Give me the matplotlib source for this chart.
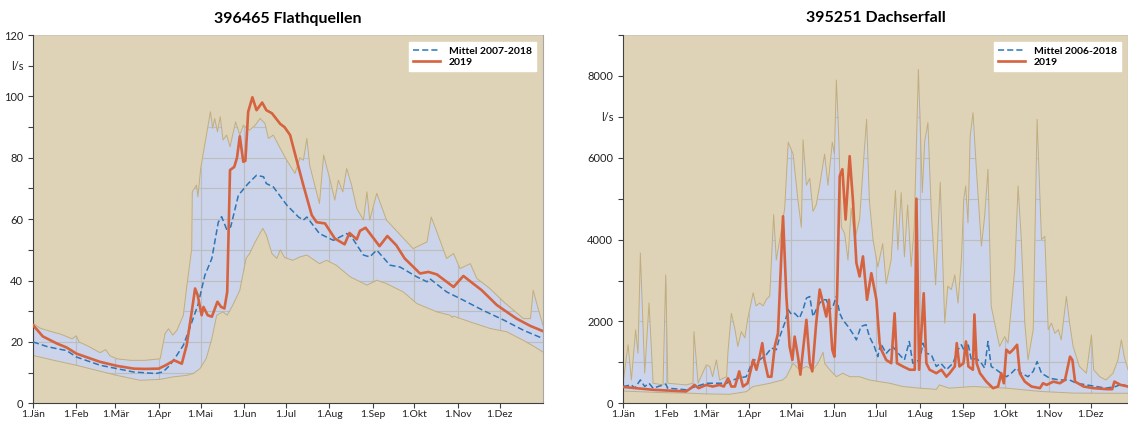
import matplotlib
matplotlib.use('Agg')
import matplotlib.pyplot as plt

plt.rcParams['font.family'] = ['Lato', 'DejaVu Sans']

# --- categories / ticks ---
month_days = [0, 31, 59, 90, 120, 151, 181, 212, 243, 273, 304, 334]
month_labels = ['1.Jän', '1.Feb', '1.Mär', '1.Apr', '1.Mai', '1.Jun',
                '1.Jul', '1.Aug', '1.Sep', '1.Okt', '1.Nov', '1.Dez']

# --- 396465 Flathquellen (l/s), day of year ---
fq_max_days = [0, 5, 12, 20, 28, 31, 33, 40, 48, 52, 55, 60, 70, 80, 91, 94.5, 97, 100, 103,
               107.6, 110, 113.6, 114, 117, 118, 120, 122, 127, 128.6, 130, 132, 134, 136,
               138.6, 141, 145, 148, 150.5, 155, 159, 162.5, 166, 168.5, 172, 177, 181.6,
               187.5, 191, 193.5, 196, 198, 205, 208, 212.6, 216, 218.5, 221.7, 224.5, 228,
               231.7, 236.5, 239, 241, 246, 253, 263, 272, 282, 285, 289, 296, 301, 305.6,
               313, 317.6, 327, 337, 351, 356, 358, 360.5, 365]
fq_max = [26, 24.5, 23.5, 22.5, 21, 22, 20, 18.5, 16.5, 17.5, 15.5, 14.5, 14, 14, 14.5, 22.7,
          24.3, 22.2, 23.8, 28.7, 37.9, 50.4, 68.9, 71.1, 67.3, 76.5, 81.9, 95, 89.6, 92.8,
          88.5, 93.4, 85.8, 87.4, 83.6, 91.7, 87.4, 90.6, 89, 90.6, 92.8, 91.2, 86.3, 87.4, 83,
          79.2, 74.9, 80, 79.2, 86.3, 77.6, 65.1, 80.9, 72.7, 66.2, 72.7, 68.9, 76.5, 71.1,
          63.5, 59.7, 68.9, 59.7, 68.4, 59.7, 54.8, 50.4, 52.6, 60.7, 55.9, 47.2, 48.8, 43.9,
          45.5, 40.7, 37.4, 33, 27.6, 27.6, 36.8, 32.5, 25.4]

fq_min_days = [0, 15, 31, 45, 60, 76.6, 91, 100, 110, 114.7, 119.5, 124, 128, 131.5, 136, 139,
               143, 148, 152.5, 155, 159, 164.5, 167, 171, 174.5, 177, 180, 186, 191, 196, 205,
               210, 217, 227, 239, 246, 253, 265, 274.7, 289, 298.5, 300, 301, 313, 327, 339,
               351, 359, 365]
fq_min = [15.6, 14, 12.4, 10.8, 9.1, 7.5, 7.8, 8.6, 9.1, 9.7, 11.3, 14.6, 21.1, 28.7, 29.8,
          28.7, 32, 36.8, 47.2, 48.8, 52.6, 57, 54.8, 48.8, 47.2, 50, 47.5, 46.6, 47.7, 48.3,
          45.5, 46.6, 45, 41.2, 38.5, 40.1, 39, 36.3, 32.5, 29.8, 28.7, 28, 28.4, 26.5, 24.4,
          23.3, 20.5, 18.4, 16.7]

fq_mean_days = [0, 10, 17, 24, 31, 48, 60, 72, 88, 93, 98, 103, 107.6, 112, 118, 123, 128,
                132.6, 135, 138.6, 141.5, 147, 154, 160, 165, 167, 172, 181.6, 190, 193.5, 196,
                205, 215, 224.5, 228, 236.5, 241, 246, 255.5, 262.7, 274.7, 282, 284, 296, 308,
                322, 337, 351, 365]
fq_mean = [20, 18.5, 17.8, 17.2, 15.1, 12.4, 11.3, 10.2, 9.7, 10.2, 12.4, 15.7, 18.9, 24.3,
           32, 41.7, 47.2, 59, 60.8, 56.7, 57.5, 67.8, 71.6, 74.3, 73.8, 71.6, 70.5, 64.6,
           60.7, 59.7, 60.7, 55.3, 53.1, 55.3, 54.2, 48.3, 47.7, 49.9, 45, 44.4, 41.2, 39.6,
           40.6, 36.3, 33.6, 30.3, 27.1, 23.8, 21.1]

fq_2019_days = [0, 7, 17, 24, 31, 48, 60, 72, 80, 90, 95, 101, 106.5, 110, 113.6, 116, 117.8,
                120.7, 122, 125, 128, 132, 134.6, 137, 139, 141, 144, 146, 148, 150.5, 152, 154,
                157, 160, 164, 167, 171, 177, 180, 184, 189, 193.5, 199.5, 203, 209, 216, 223,
                226.5, 231.7, 234, 238, 248, 253.6, 260, 266, 277, 283, 289, 301, 308, 315,
                321, 332, 346, 356, 365]
fq_2019 = [25.5, 21.8, 19.5, 18.2, 16.2, 13.5, 12.2, 11.3, 11.2, 11.3, 12.4, 14, 12.9, 19,
           29.8, 37.4, 35.3, 28.7, 31.4, 28.7, 28.2, 33.1, 31.4, 30.9, 36.3, 76, 77, 80, 87,
           78.7, 79, 95, 99.7, 95.5, 98, 95.5, 94.5, 91, 90, 87.4, 78.7, 71, 61.3, 59, 58.6,
           53.7, 51.8, 55.5, 53.4, 56.2, 57.2, 51.2, 54.5, 51.5, 47.2, 42.3, 42.8, 42, 37.9,
           41.5, 39, 36.9, 32, 27.6, 25.2, 23.5]

# --- 395251 Dachserfall (l/s), day of year ---
ds_max_days = [0, 3.6, 6, 9, 10.7, 12.4, 15.5, 18.6, 21.5, 28.6, 30.5, 32, 45, 50, 50.7, 53.6,
               59.5, 62, 64, 66.7, 69, 74, 75, 77.4, 80, 82, 84.5, 87, 89, 93, 95, 97.6, 100,
               102.4, 104.8, 107.6, 109.5, 112, 115.5, 118, 121.5, 125, 127.4, 128.6, 131,
               133.4, 135.7, 138, 140.5, 144, 146.4, 149.5, 151, 152.4, 154, 156, 158.3,
               160.7, 163, 165.5, 169, 172.6, 174, 176, 178.6, 182, 185.5, 188, 191.5, 194.6,
               196.3, 198.7, 201, 203.3, 205.8, 208, 211, 213.8, 215.5, 217.8, 220.2, 223.3,
               226.6, 229.8, 232, 234.5, 237, 239.3, 241.7, 243.4, 244.8, 246.4, 248, 250,
               252.4, 256, 258.3, 260.7, 263, 265.5, 269, 272.6, 275, 277.4, 279.8, 282.2,
               284.5, 287, 289.3, 293, 295.8, 298.9, 301.3, 303.7, 306, 308.5, 311, 313,
               316.7, 319, 321.5, 326, 331, 334.6, 336.2, 340.5, 345, 350, 353.5, 356, 358,
               360.7]
ds_max = [490, 1430, 570, 1795, 1225, 3675, 735, 2450, 490, 450, 3140, 490, 450, 490, 1750,
          490, 940, 900, 650, 1060, 570, 650, 1270, 2200, 1800, 1390, 1750, 1600, 2050, 2700,
          2380, 2450, 2380, 2540, 2620, 4610, 3500, 4000, 4770, 6380, 6090, 4950, 4300, 6440,
          5330, 5500, 4690, 4850, 5330, 6090, 5330, 6380, 6090, 7900, 6600, 4300, 4150, 3500,
          4770, 4000, 4500, 6300, 6940, 4950, 3990, 3330, 3900, 2920, 3500, 5200, 3750, 5150,
          3580, 4850, 3340, 4300, 8160, 5150, 6400, 6860, 4680, 2890, 5400, 1960, 2860, 2780,
          3140, 2450, 3510, 4990, 5310, 4410, 6530, 7100, 5720, 3840, 4570, 5720, 2370, 1960,
          1390, 1630, 1470, 2370, 3260, 5310, 4000, 1960, 1060, 1800, 6940, 4000, 4080, 1800,
          1960, 1710, 1800, 1550, 2610, 1960, 1390, 900, 735, 1670, 820, 650, 570, 735, 1060,
          1550, 1140, 820]

ds_min_days = [0, 28.6, 45, 59.5, 76, 88, 93, 105, 114, 116.7, 121.5, 126, 131, 135.7, 139.3,
               142.9, 144, 147.6, 152.4, 157, 162, 169, 176, 183, 190.5, 200, 211.9, 223.8,
               226, 233, 250, 274, 298, 321.5, 345, 360.7]
ds_min = [300, 260, 250, 230, 220, 284, 410, 490, 570, 650, 980, 820, 900, 820, 980, 1250,
          980, 820, 650, 735, 650, 650, 570, 530, 490, 410, 370, 340, 450, 370, 410, 370, 290,
          250, 245, 245]

ds_mean_days = [0, 6, 8.4, 12.4, 15.5, 18.6, 21.5, 30.5, 32, 45, 52, 59.5, 66.7, 74, 78.6, 83,
                88, 93, 97.6, 102.4, 106, 109.5, 112, 115.5, 118, 120.3, 122.6, 126, 128.6,
                131, 133.4, 135.7, 138, 140.5, 142.9, 145.2, 147.6, 150, 152.4, 154.8, 157,
                160.7, 164, 166.7, 170, 173.6, 176, 179.5, 182, 184, 188, 192.6, 197.4, 201,
                204.5, 207, 211.9, 214.3, 216.7, 220.2, 223.8, 227, 231, 235.7, 239.3, 241.7,
                244, 246.4, 248.8, 252.4, 256, 258.3, 260.7, 263, 266.7, 270, 274, 277.4, 281,
                284.5, 289.3, 293, 295.8, 298.9, 305, 312, 319, 324, 331, 338, 345, 352, 356,
                360.7]
ds_mean = [410, 450, 370, 570, 410, 490, 370, 470, 370, 330, 410, 490, 490, 490, 570, 620,
           650, 1060, 1060, 1190, 1350, 1310, 1630, 1960, 2290, 2170, 2200, 2080, 2290, 2570,
           2610, 2120, 2290, 2450, 2530, 2530, 2290, 2370, 2610, 2200, 2040, 1880, 1710, 1550,
           1880, 1920, 1630, 1390, 1140, 1470, 1220, 1390, 1190, 1060, 1510, 980, 1060, 1470,
           1220, 1190, 900, 980, 820, 980, 1310, 1430, 1270, 1470, 1060, 1100, 980, 860, 1510,
           900, 820, 735, 650, 735, 860, 735, 650, 780, 1020, 735, 610, 570, 570, 490, 450,
           410, 370, 410, 470, 410]

ds_2019_days = [0, 21.5, 45, 48.5, 51, 54, 59.5, 64, 69, 72, 75, 77.4, 80, 83, 85.7, 89, 93,
                95.3, 97.6, 99.5, 101, 103.6, 106, 108.4, 110.7, 114.3, 116.7, 119, 121, 122.6,
                125, 126.7, 128.6, 131, 133.4, 135.2, 138, 140.5, 142.9, 145.2, 147.1, 149.5,
                151, 152.9, 154.8, 156.7, 159, 161.9, 164.3, 166.7, 169, 171.4, 174.3, 177.4,
                181, 183.3, 184.5, 188, 191.6, 194, 195.7, 200, 204.8, 208.4, 209.6, 211.5,
                214.8, 216.7, 219, 223.8, 227.4, 231, 233.3, 237, 238.4, 240.3, 243.2, 245,
                246.7, 249.9, 251, 252.6, 255, 259.5, 264.3, 267.9, 270.2, 272, 273.8, 276.2,
                278.6, 281.5, 283.4, 287, 291.8, 297.8, 300, 302.6, 307.4, 312, 315.7, 319.3,
                321, 322.9, 329, 336, 345.8, 349.4, 351, 355.4, 360.7]
ds_2019 = [400, 330, 290, 370, 450, 370, 450, 410, 450, 410, 610, 410, 410, 780, 410, 490,
           1060, 820, 1140, 1470, 1060, 650, 650, 1390, 1710, 4570, 2610, 1390, 1060, 1630,
           1140, 700, 1310, 2040, 980, 780, 1960, 2780, 2450, 2120, 2530, 1310, 1140, 2610,
           5550, 5720, 4490, 6040, 4930, 3430, 3100, 3590, 2530, 3180, 2530, 1470, 1310, 1060,
           980, 2200, 980, 900, 820, 820, 5000, 820, 2690, 980, 820, 735, 820, 650, 735, 900,
           1470, 900, 980, 1510, 900, 820, 2170, 980, 735, 530, 370, 410, 735, 490, 1310, 1230,
           1310, 1430, 735, 530, 410, 370, 490, 450, 530, 490, 570, 1140, 1060, 530, 410, 370,
           345, 345, 530, 450, 410]

BEIGE = '#DFD3B7'
BAND = '#CBD4EA'
EDGE = '#C2AE7C'
RED = '#D6633F'
BLUE = '#2E75B6'


def draw(ax, title, mx_d, mx, mn_d, mn, me_d, me, yr_d, yr, ylim, xmax, yticks, ylabels,
         mean_label):
    ax.set_facecolor(BAND)
    ax.set_xlim(0, xmax)
    ax.set_ylim(0, ylim)
    ax.set_axisbelow(True)
    ax.grid(True, color='#BDBDBD', lw=0.8)
    ax.fill_between(mx_d, mx, ylim, color=BEIGE, lw=0, zorder=1)
    ax.fill_between(mn_d, 0, mn, color=BEIGE, lw=0, zorder=1)
    ax.plot(mx_d, mx, color=EDGE, lw=0.7, zorder=2)
    ax.plot(mn_d, mn, color=EDGE, lw=0.7, zorder=2)
    ax.plot(me_d, me, color=BLUE, lw=1.1, ls=(0, (4, 2)), zorder=3, label=mean_label)
    ax.plot(yr_d, yr, color=RED, lw=1.9, zorder=4, label='2019')

    ax.set_xticks(month_days)
    ax.set_xticklabels(month_labels)
    ax.set_yticks(yticks)
    ax.set_yticklabels(ylabels)
    ax.tick_params(labelsize=8, length=3.5, color='#404040', colors='#222222')
    ax.tick_params(axis='x', pad=1.5, labelsize=7.5)
    for s in ('left', 'bottom'):
        ax.spines[s].set_color('#404040')
    ax.spines['top'].set_visible(False)
    ax.spines['right'].set_color('#A6A6A6')
    ax.set_title(title, fontsize=11.5, fontweight='bold', pad=9)
    leg = ax.legend(loc='upper right', frameon=True, fancybox=False,
                    borderaxespad=0.7, handlelength=2.6, labelspacing=0.2,
                    prop={'weight': 'bold', 'size': 7.5})
    leg.get_frame().set_edgecolor('white')
    leg.get_frame().set_facecolor('white')
    leg.get_frame().set_alpha(1)


fig = plt.figure(figsize=(11.28, 4.23), dpi=100)
ax1 = fig.add_axes([33 / 1128, 19.7 / 423, 510 / 1128, 368.3 / 423])
ax2 = fig.add_axes([623 / 1128, 19.7 / 423, 505 / 1128, 368.3 / 423])

draw(ax1, '396465 Flathquellen', fq_max_days, fq_max, fq_min_days, fq_min,
     fq_mean_days, fq_mean, fq_2019_days, fq_2019, 120, 365,
     list(range(0, 121, 10)),
     ['0', '', '20', '', '40', '', '60', '', '80', '', '100', 'l/s', '120'],
     'Mittel 2007-2018')

draw(ax2, '395251 Dachserfall', ds_max_days, ds_max, ds_min_days, ds_min,
     ds_mean_days, ds_mean, ds_2019_days, ds_2019, 9000, 505 / 1.4,
     list(range(0, 9001, 1000)),
     ['0', '', '2000', '', '4000', '', '6000', 'l/s', '8000', ''],
     'Mittel 2006-2018')

fig.savefig('out.png', dpi=100)
